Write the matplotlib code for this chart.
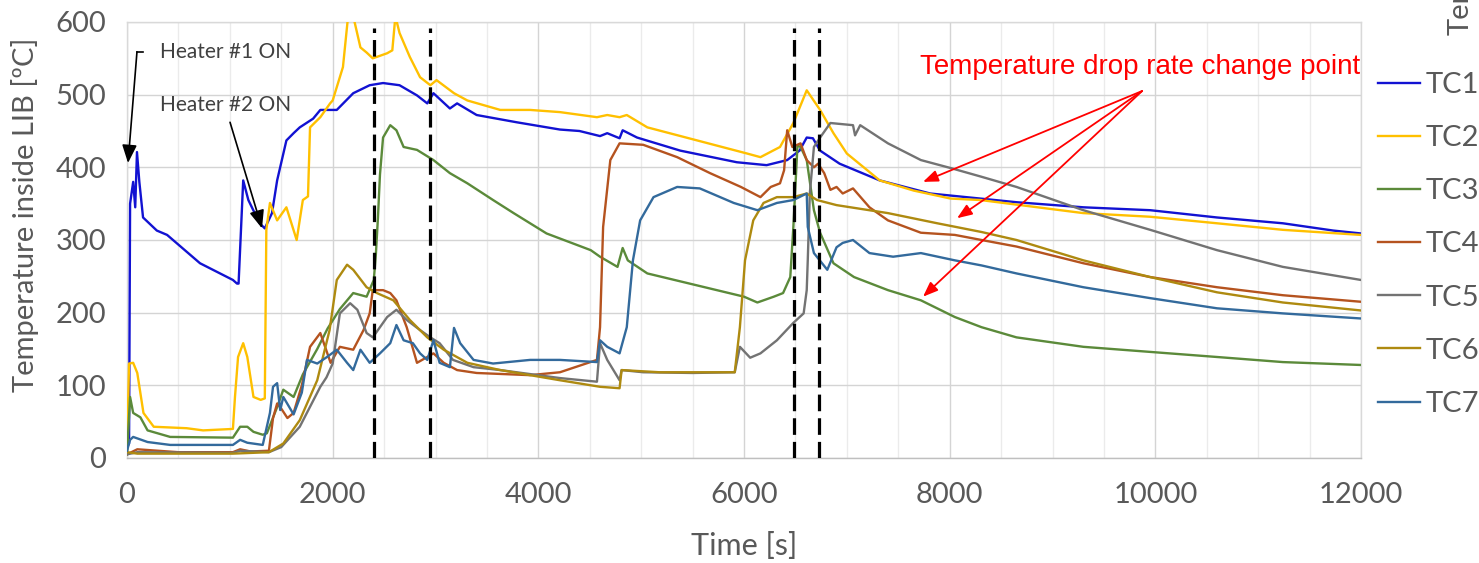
import matplotlib
matplotlib.use("Agg")
import matplotlib.pyplot as plt
from matplotlib.ticker import MultipleLocator

# ---------------- data ----------------
tc1_t = [0, 20, 30, 60, 80, 97, 120, 156, 290, 390, 710, 1030, 1070, 1085, 1130, 1180, 1290, 1340, 1410, 1460,
         1550, 1620, 1680, 1810, 1880, 2040, 2200, 2360, 2490, 2650, 2820, 2920, 2980, 3140, 3210, 3400, 3790,
         4210, 4400, 4600, 4670, 4790, 4820, 4960, 5380, 5930, 6220, 6420, 6540, 6610, 6670, 6740, 6930, 7320,
         7810, 8300, 8650, 9300, 9950, 10600, 11240, 11730, 12000]
tc1_v = [15, 20, 350, 380, 345, 421, 380, 331, 313, 307, 268, 245, 240, 240, 382, 355, 323, 316, 337, 382,
         437, 447, 455, 467, 479, 479, 502, 513, 516, 513, 499, 488, 502, 481, 488, 472, 462,
         452, 450, 443, 447, 440, 451, 441, 423, 407, 403, 410, 423, 441, 440, 423, 405, 382,
         364, 357, 352, 345, 341, 331, 323, 313, 309]

tc2_t = [0, 20, 60, 100, 160, 260, 580, 740, 1030, 1050, 1080, 1130, 1170, 1230, 1300, 1340, 1355, 1390, 1460,
         1550, 1650, 1710, 1760, 1780, 1880, 1975, 2000, 2100, 2150, 2200, 2270, 2330, 2390, 2530, 2580, 2610,
         2650, 2750, 2850, 2950, 3010, 3180, 3310, 3630, 3920, 4210, 4570, 4670, 4790, 4860, 5060, 6030, 6160,
         6350, 6480, 6610, 6740, 6870, 7000, 7320, 7650, 8010, 8300, 9300, 9950, 10600, 11240, 12000]
tc2_v = [10, 130, 131, 117, 62, 43, 41, 38, 40, 84, 139, 158, 139, 84, 80, 82, 314, 351, 327,
         345, 300, 355, 360, 455, 469, 488, 492, 538, 608, 608, 565, 558, 550, 557, 561, 608,
         585, 552, 524, 513, 520, 502, 492, 479, 479, 476, 469, 472, 469, 472, 455, 419, 414,
         428, 461, 506, 479, 447, 419, 382, 368, 357, 355, 337, 332, 323, 314, 307]

tc3_t = [0, 30, 60, 130, 200, 420, 1030, 1100, 1170, 1230, 1320, 1360, 1460, 1520, 1620, 1710, 1850, 1950,
         2070, 2200, 2330, 2400, 2420, 2440, 2460, 2490, 2560, 2620, 2690, 2820, 2980, 3140, 3310, 3560,
         3760, 4080, 4510, 4600, 4770, 4820, 4870, 5060, 6000, 6130, 6290, 6380, 6450, 6480, 6520, 6550,
         6610, 6680, 6740, 6870, 7070, 7400, 7720, 8050, 8310, 8650, 9300, 9950, 10600, 11240, 12000]
tc3_v = [5, 84, 62, 56, 38, 29, 28, 43, 43, 36, 32, 34, 70, 94, 84, 115, 150, 178,
         205, 227, 222, 245, 280, 330, 390, 441, 458, 451, 428, 424, 410, 392, 378, 355,
         337, 309, 286, 277, 263, 289, 272, 254, 222, 214, 222, 227, 249, 318, 430, 428,
         410, 341, 310, 268, 249, 231, 217, 194, 180, 166, 153, 146, 139, 132, 128]

tc4_t = [0, 100, 500, 1030, 1100, 1200, 1380, 1420, 1460, 1500, 1560, 1620, 1700, 1780, 1880, 1980, 2070,
         2200, 2300, 2360, 2390, 2490, 2560, 2620, 2720, 2820, 2920, 2980, 3080, 3210, 3400, 3920, 4210,
         4570, 4600, 4630, 4700, 4790, 5020, 5350, 5670, 5970, 6160, 6260, 6350, 6390, 6420, 6470, 6550,
         6610, 6680, 6720, 6780, 6840, 6900, 6960, 7060, 7220, 7400, 7720, 8050, 8310, 8650, 9300, 9950,
         10600, 11240, 12000]
tc4_v = [5, 12, 8, 8, 12, 9, 10, 55, 75, 68, 55, 62, 100, 153, 172, 131, 153,
         149, 176, 199, 231, 231, 227, 217, 180, 131, 139, 144, 131, 121, 117, 114, 118,
         135, 180, 318, 410, 433, 431, 414, 392, 373, 359, 373, 378, 396, 451, 428, 433,
         410, 400, 405, 392, 369, 373, 364, 371, 345, 327, 310, 307, 300, 291, 268, 249,
         235, 224, 215]

tc5_t = [0, 100, 1030, 1100, 1380, 1500, 1680, 1880, 1940, 2000, 2070, 2170, 2240, 2330, 2390, 2530, 2620,
         2720, 2850, 2950, 3040, 3170, 3370, 3630, 4210, 4570, 4600, 4670, 4790, 4810, 5020, 5500, 5910,
         5960, 6060, 6160, 6320, 6480, 6580, 6610, 6620, 6640, 6680, 6740, 6840, 7060, 7080, 7130, 7400,
         7720, 8010, 8310, 8650, 9300, 9950, 10600, 11240, 12000]
tc5_v = [5, 8, 7, 10, 8, 15, 43, 98, 111, 130, 199, 213, 204, 172, 166, 194, 204,
         190, 176, 166, 158, 135, 125, 121, 110, 105, 158, 135, 107, 121, 118, 117, 118,
         153, 138, 144, 162, 186, 199, 231, 272, 364, 428, 441, 461, 458, 444, 458, 433,
         410, 399, 387, 373, 341, 314, 286, 263, 245]

tc6_t = [0, 100, 1030, 1380, 1520, 1680, 1850, 1970, 2040, 2140, 2200, 2330, 2430, 2590, 2750, 2920, 3080,
         3310, 3630, 3920, 4210, 4600, 4790, 4810, 5180, 5910, 5960, 6010, 6090, 6190, 6320, 6480, 6610,
         6710, 6900, 7400, 7880, 8310, 8650, 9300, 9950, 10600, 11240, 12000]
tc6_v = [8, 6, 6, 8, 20, 52, 107, 176, 245, 266, 259, 235, 227, 217, 190, 166, 149,
         131, 121, 114, 107, 98, 96, 121, 118, 118, 180, 272, 327, 351, 359, 359, 364,
         355, 348, 337, 323, 311, 300, 272, 249, 228, 214, 203]

tc7_t = [0, 30, 60, 200, 420, 1030, 1100, 1170, 1320, 1390, 1420, 1460, 1490, 1520, 1620, 1700, 1750, 1850,
         1945, 2040, 2140, 2200, 2270, 2360, 2460, 2560, 2620, 2690, 2780, 2850, 2920, 2980, 3040, 3140,
         3180, 3240, 3370, 3560, 3920, 4210, 4570, 4600, 4670, 4790, 4860, 4920, 4990, 5120, 5350, 5570,
         5900, 6130, 6320, 6480, 6610, 6620, 6680, 6810, 6900, 6960, 7060, 7220, 7450, 7720, 8050, 8310,
         8650, 9300, 9950, 10600, 11240, 12000]
tc7_v = [10, 25, 29, 22, 18, 18, 25, 21, 18, 62, 98, 103, 66, 84, 60, 90, 135, 130,
         139, 149, 131, 121, 149, 131, 144, 158, 183, 162, 158, 144, 135, 162, 131, 125,
         179, 158, 135, 130, 135, 135, 132, 162, 153, 144, 180, 272, 327, 359, 373, 371,
         351, 341, 351, 355, 364, 318, 282, 259, 290, 296, 300, 282, 277, 282, 272, 265,
         254, 235, 220, 206, 199, 192]

series_names = ["TC1", "TC2", "TC3", "TC4", "TC5", "TC6", "TC7"]
series_t = [tc1_t, tc2_t, tc3_t, tc4_t, tc5_t, tc6_t, tc7_t]
series_v = [tc1_v, tc2_v, tc3_v, tc4_v, tc5_v, tc6_v, tc7_v]
series_colors = ["#1212d2", "#FFC000", "#5B8A3A", "#B5531F", "#737373", "#AE8A10", "#336A9C"]

event_times = [2404, 2949, 6482, 6725]

x_ticks = [0, 2000, 4000, 6000, 8000, 10000, 12000]
y_ticks = [0, 100, 200, 300, 400, 500, 600]

# ---------------- figure ----------------
W, H = 1479, 563
fig = plt.figure(figsize=(W / 100, H / 100), dpi=100)
ax = fig.add_axes([127 / W, (H - 458) / H, (1361 - 127) / W, (458 - 22) / H])

FONT = "Lato"
GREY = "#595959"

ax.set_xlim(0, 12000)
ax.set_ylim(0, 600)
ax.set_xticks(x_ticks)
ax.set_yticks(y_ticks)
ax.xaxis.set_minor_locator(MultipleLocator(500))
ax.grid(True, which="major", color="#d4d4d4", lw=1.0, zorder=0)
ax.grid(True, which="minor", axis="x", color="#ebebeb", lw=1.0, zorder=0)
ax.tick_params(which="both", length=0)
ax.tick_params(axis="x", pad=17, labelsize=21, labelcolor=GREY)
ax.tick_params(axis="y", pad=15, labelsize=21, labelcolor=GREY)
for lab in ax.get_xticklabels() + ax.get_yticklabels():
    lab.set_fontfamily(FONT)
for s in ax.spines.values():
    s.set_color("#d9d9d9")
    s.set_linewidth(1.0)
ax.spines["bottom"].set_color("#bfbfbf")

handles = []
for name, t, v, c in zip(series_names, series_t, series_v, series_colors):
    h, = ax.plot(t, v, color=c, lw=1.7, label=name, zorder=3)
    handles.append(h)

for et in event_times:
    ax.plot([et, et], [0, 592], color="black", lw=2.3, dashes=(5.2, 2.2), zorder=4)

ax.set_xlabel("Time [s]", fontsize=22, color=GREY, family=FONT)
ax.xaxis.set_label_coords(0.5, -0.17)
fig.text(25 / W, 1 - 215 / H, "Temperature inside LIB [ºC]", rotation=90, ha="center", va="center",
         fontsize=21, color=GREY, family=FONT)

# legend
leg = fig.legend(handles=handles, labels=series_names, loc="upper left",
                 bbox_to_anchor=(1378 / W, 1 - 72 / H), frameon=False,
                 prop={"family": FONT, "size": 21}, labelcolor=GREY,
                 handlelength=1.45, handletextpad=0.2, labelspacing=0.93, borderaxespad=0, borderpad=0)

# cut-off secondary label at the top right (as in the reference)
fig.text(1461 / W, 1 - 35 / H, "Temperature", rotation=90, ha="center", va="bottom",
         fontsize=21, color=GREY, family=FONT)

# heater annotations
ann_col = "#404040"
ax.text(321, 559, "Heater #1 ON", fontsize=15, color=ann_col, family=FONT, va="center", ha="left")
ax.text(321, 486, "Heater #2 ON", fontsize=15, color=ann_col, family=FONT, va="center", ha="left")
ax.plot([156, 97], [559, 559], color="black", lw=1.2, clip_on=False)
ax.annotate("", xy=(10, 406), xytext=(97, 559),
            arrowprops=dict(arrowstyle="-|>,head_length=1.1,head_width=0.45", color="black", lw=1.2,
                            shrinkA=0, shrinkB=0), annotation_clip=False)
ax.annotate("", xy=(1313, 316), xytext=(1002, 462),
            arrowprops=dict(arrowstyle="-|>,head_length=1.1,head_width=0.45", color="black", lw=1.2,
                            shrinkA=0, shrinkB=0), annotation_clip=False)

# red annotation
ax.text(7712, 538, "Temperature drop rate change point", fontsize=20, color="red",
        family="Liberation Sans", va="center", ha="left", zorder=6)
for tip in [(7741, 380), (8072, 330), (7741, 222)]:
    ax.annotate("", xy=tip, xytext=(9871, 505),
                arrowprops=dict(arrowstyle="-|>,head_length=0.9,head_width=0.35", color="red", lw=1.3,
                                shrinkA=0, shrinkB=0), zorder=6)

fig.savefig("out.png", dpi=100)
